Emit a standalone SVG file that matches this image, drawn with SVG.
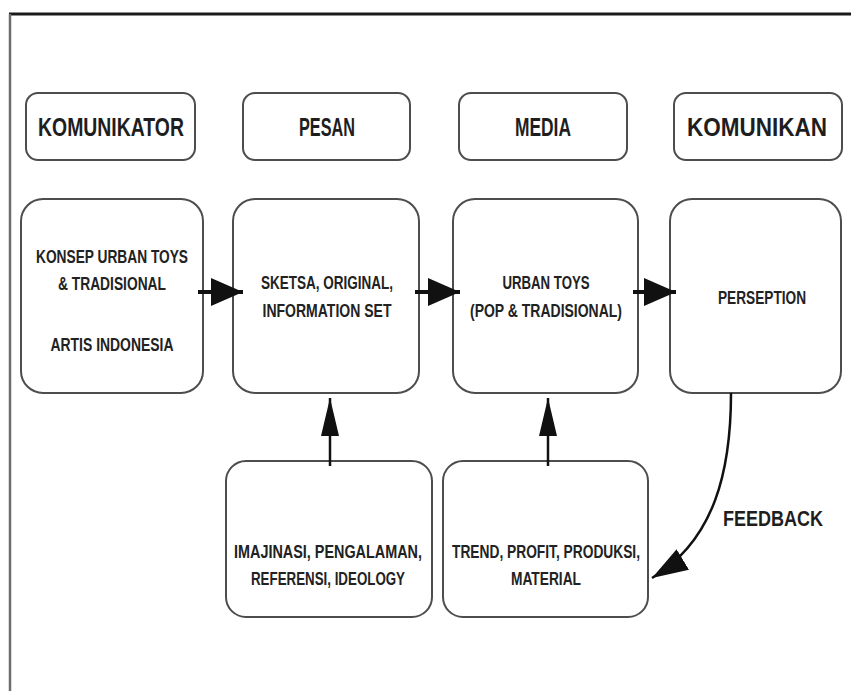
<svg xmlns="http://www.w3.org/2000/svg" width="851" height="691" viewBox="0 0 851 691">
  <style>
    .box { fill: #ffffff; stroke: #4d4d4d; stroke-width: 2; }
    .hdr { font-family: "Liberation Sans", "DejaVu Sans", sans-serif; font-weight: bold; font-size: 25px; fill: #1e1e1e; text-anchor: middle; }
    .txt { font-family: "Liberation Sans", "DejaVu Sans", sans-serif; font-weight: bold; font-size: 18px; fill: #222222; text-anchor: middle; }
    .lbl { font-family: "Liberation Sans", "DejaVu Sans", sans-serif; font-weight: bold; font-size: 22px; fill: #1e1e1e; text-anchor: middle; }
    .flow { stroke: #111111; stroke-width: 4; fill: none; }
    .up { stroke: #111111; stroke-width: 2.5; fill: none; }
    .fb { stroke: #111111; stroke-width: 2.5; fill: none; }
  </style>
  <defs>
    <marker id="headH" markerUnits="userSpaceOnUse" markerWidth="32" markerHeight="28" refX="32" refY="14" orient="auto">
      <path d="M0,0 L32,14 L0,28 z" fill="#111111"/>
    </marker>
    <marker id="headV" markerUnits="userSpaceOnUse" markerWidth="38" markerHeight="18" refX="38" refY="9" orient="auto">
      <path d="M0,0 L38,9 L0,18 z" fill="#111111"/>
    </marker>
    <marker id="headF" markerUnits="userSpaceOnUse" markerWidth="36" markerHeight="24" refX="36" refY="12" orient="auto">
      <path d="M0,0 L36,12 L0,24 z" fill="#111111"/>
    </marker>
  </defs>

  <!-- page frame -->
  <rect x="0" y="0" width="851" height="691" fill="#ffffff"/>
  <line x1="9" y1="14" x2="851" y2="14" stroke="#1a1a1a" stroke-width="3"/>
  <line x1="10" y1="14" x2="10" y2="691" stroke="#6e6e6e" stroke-width="2.5"/>

  <!-- column headings -->
  <g id="hdr-komunikator">
    <rect class="box" x="26" y="93" width="169" height="67" rx="12"/>
    <text class="hdr" x="111" y="136" textLength="146" lengthAdjust="spacingAndGlyphs">KOMUNIKATOR</text>
  </g>
  <g id="hdr-pesan">
    <rect class="box" x="243" y="93" width="167" height="67" rx="12"/>
    <text class="hdr" x="327" y="136" textLength="56" lengthAdjust="spacingAndGlyphs">PESAN</text>
  </g>
  <g id="hdr-media">
    <rect class="box" x="459" y="93" width="168" height="67" rx="12"/>
    <text class="hdr" x="543" y="136" textLength="56" lengthAdjust="spacingAndGlyphs">MEDIA</text>
  </g>
  <g id="hdr-komunikan">
    <rect class="box" x="674" y="93" width="168" height="67" rx="12"/>
    <text class="hdr" x="757" y="136" textLength="140" lengthAdjust="spacingAndGlyphs">KOMUNIKAN</text>
  </g>

  <!-- main flow -->
  <g id="konsep">
    <rect class="box" x="21" y="199" width="182" height="194" rx="22"/>
    <text class="txt" x="112" y="263" textLength="152" lengthAdjust="spacingAndGlyphs">KONSEP URBAN TOYS</text>
    <text class="txt" x="112" y="290" textLength="108" lengthAdjust="spacingAndGlyphs">&amp; TRADISIONAL</text>
    <text class="txt" x="112" y="351" textLength="123" lengthAdjust="spacingAndGlyphs">ARTIS INDONESIA</text>
  </g>
  <g id="sketsa">
    <rect class="box" x="233" y="199" width="186" height="194" rx="22"/>
    <text class="txt" x="327" y="289" textLength="132" lengthAdjust="spacingAndGlyphs">SKETSA, ORIGINAL,</text>
    <text class="txt" x="327" y="317" textLength="129" lengthAdjust="spacingAndGlyphs">INFORMATION SET</text>
  </g>
  <g id="urban-toys">
    <rect class="box" x="453" y="199" width="185" height="194" rx="22"/>
    <text class="txt" x="546" y="289" textLength="87" lengthAdjust="spacingAndGlyphs">URBAN TOYS</text>
    <text class="txt" x="546" y="317" textLength="152" lengthAdjust="spacingAndGlyphs">(POP &amp; TRADISIONAL)</text>
  </g>
  <g id="perseption">
    <rect class="box" x="670" y="199" width="171" height="194" rx="22"/>
    <text class="txt" x="762" y="304" textLength="88" lengthAdjust="spacingAndGlyphs">PERSEPTION</text>
  </g>

  <!-- inputs below -->
  <g id="imajinasi">
    <rect class="box" x="226" y="461" width="206" height="156" rx="20"/>
    <text class="txt" x="328" y="558" textLength="188" lengthAdjust="spacingAndGlyphs">IMAJINASI, PENGALAMAN,</text>
    <text class="txt" x="328" y="585" textLength="154" lengthAdjust="spacingAndGlyphs">REFERENSI, IDEOLOGY</text>
  </g>
  <g id="trend">
    <rect class="box" x="443" y="461" width="205" height="156" rx="20"/>
    <text class="txt" x="546" y="558" textLength="188" lengthAdjust="spacingAndGlyphs">TREND, PROFIT, PRODUKSI,</text>
    <text class="txt" x="546" y="585" textLength="70" lengthAdjust="spacingAndGlyphs">MATERIAL</text>
  </g>

  <!-- connectors -->
  <g id="connectors">
    <line class="flow" x1="198" y1="292" x2="243" y2="292" marker-end="url(#headH)"/>
    <line class="flow" x1="415" y1="292" x2="460" y2="292" marker-end="url(#headH)"/>
    <line class="flow" x1="633" y1="292" x2="676" y2="292" marker-end="url(#headH)"/>
    <line class="up" x1="330" y1="466" x2="330" y2="398" marker-end="url(#headV)"/>
    <line class="up" x1="548" y1="466" x2="548" y2="398" marker-end="url(#headV)"/>
    <path class="fb" d="M731,393 C731,470 715,540 652,578" marker-end="url(#headF)"/>
    <text class="lbl" x="773" y="526" textLength="100" lengthAdjust="spacingAndGlyphs">FEEDBACK</text>
  </g>
</svg>
